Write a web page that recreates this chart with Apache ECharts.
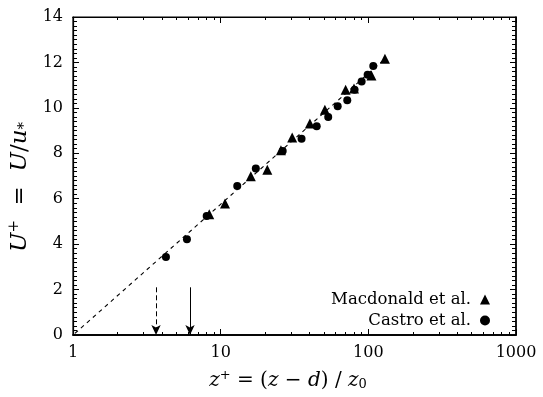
<!DOCTYPE html>
<html>
<head>
<meta charset="utf-8">
<script src="https://cdn.jsdelivr.net/npm/echarts@6/dist/echarts.min.js"></script>
<style>
  html, body { margin: 0; padding: 0; background: #fff; }
  #chart { width: 543px; height: 397px; }
</style>
</head>
<body>
<div id="chart"></div>
<script>
  // Castro et al. (circles)
  const castroX = [4.26, 5.91, 8.04, 12.95, 17.3, 26.3, 35.3, 44.7, 53.5, 62, 72, 80.7, 90.1, 98.9, 108];
  const castroY = [3.43, 4.22, 5.24, 6.56, 7.33, 8.10, 8.64, 9.19, 9.60, 10.07, 10.33, 10.80, 11.16, 11.46, 11.84];
  // Macdonald et al. (triangles)
  const macX = [8.37, 10.7, 16.0, 20.7, 25.6, 30.5, 40.2, 50.8, 70.2, 80, 105, 129.5];
  const macY = [5.32, 5.79, 6.99, 7.28, 8.13, 8.69, 9.31, 9.92, 10.80, 10.85, 11.43, 12.16];
  // log-law fit line end points
  const fitX = [1.03, 130];
  const fitY = [0.07, 12.17];
  // arrows: x position, top of arrow
  const arrowX = [3.65, 6.2];
  const arrowTop = [2.1, 2.1];
  const xTicks = [1, 10, 100, 1000];
  const xMinorTicks = [2, 3, 4, 5, 6, 7, 8, 9, 20, 30, 40, 50, 60, 70, 80, 90, 200, 300, 400, 500, 600, 700, 800, 900];

  const font = 'DejaVu Serif';
  const ink = '#000';

  const zip = (a, b) => a.map((v, i) => [v, b[i]]);

  const chart = echarts.init(document.getElementById('chart'));
  const tickStyle = { inside: true, length: 6, lineStyle: { color: ink, width: 1 } };
  const minorStyle = { show: true, length: 4, lineStyle: { color: ink, width: 1 } };
  const mathRich = {
    i: { fontFamily: font, fontStyle: 'italic', fontSize: 20, color: ink },
    sup: { fontFamily: font, fontSize: 13, color: ink, padding: [0, 0, 10, 0] },
    sub: { fontFamily: font, fontSize: 13, color: ink, padding: [8, 0, 0, 0] }
  };
  const yRich = {
    i: { fontFamily: font, fontStyle: 'italic', fontSize: 23, color: ink },
    sup: { fontFamily: font, fontSize: 15, color: ink, padding: [0, 0, 11, 0] },
    sub: { fontFamily: font, fontSize: 15, color: ink, padding: [9, 0, 0, 0] }
  };

  function logAxis(pos, values, len, extra) {
    return Object.assign({
      type: 'log',
      logBase: 10,
      min: 1,
      max: 1000,
      position: pos,
      axisLine: { show: true, lineStyle: { color: ink, width: pos === 'bottom' ? 1.5 : 1.2 } },
      axisTick: { inside: true, length: len, customValues: values, lineStyle: { color: ink, width: 1 } },
      splitLine: { show: false },
      axisLabel: { show: false }
    }, extra || {});
  }

  const option = {
    animation: false,
    grid: {
      left: 73, right: 27, top: 17, bottom: 62,
      containLabel: false, outerBoundsMode: 'none',
      show: true, borderColor: ink, borderWidth: 1.2
    },
    legend: {
      orient: 'vertical',
      right: 48,
      top: 286,
      align: 'right',
      itemWidth: 10,
      itemHeight: 10,
      itemGap: 4,
      textStyle: { fontFamily: font, fontSize: 16.5, color: ink, padding: [0, 4, 0, 0] },
      data: [
        { name: 'Macdonald et al.', icon: 'triangle' },
        { name: 'Castro et al.', icon: 'circle' }
      ]
    },
    xAxis: [
      logAxis('bottom', xTicks, 6, {
        axisLabel: {
          fontFamily: font, fontSize: 16, color: ink, margin: 10,
          customValues: xTicks,
          formatter: v => String(v)
        },
        name: '{i|z}{sup|+} = ({i|z} − {i|d}) / {i|z}{sub|0}',
        nameLocation: 'middle',
        nameGap: 34,
        nameTextStyle: { fontFamily: font, fontSize: 20, color: ink, rich: mathRich, padding: [0, 13, 0, 0] }
      }),
      logAxis('bottom', xMinorTicks, 3),
      logAxis('top', xTicks, 6),
      logAxis('top', xMinorTicks, 3)
    ],
    yAxis: [{
      type: 'value',
      min: 0,
      max: 14,
      interval: 2,
      axisLine: { show: true, lineStyle: { color: ink, width: 1.2 } },
      axisTick: tickStyle,
      minorTick: Object.assign({ splitNumber: 10 }, minorStyle),
      splitLine: { show: false },
      axisLabel: { fontFamily: font, fontSize: 16, color: ink, margin: 10 },
      name: '{i|U}{sup|+}  =  {i|U}/{i|u}{sub|*}',
      nameLocation: 'middle',
      nameGap: 37,
      nameRotate: 90,
      nameTextStyle: { fontFamily: font, fontSize: 23, color: ink, rich: yRich, padding: [0, 22, 0, 0] }
    }, {
      type: 'value',
      min: 0,
      max: 14,
      interval: 2,
      position: 'right',
      axisLine: { show: true, lineStyle: { color: ink, width: 1.5 } },
      axisTick: tickStyle,
      minorTick: Object.assign({ splitNumber: 10 }, minorStyle),
      splitLine: { show: false },
      axisLabel: { show: false }
    }],
    series: [
      {
        name: 'fit',
        type: 'line',
        data: zip(fitX, fitY),
        symbol: 'none',
        lineStyle: { color: ink, width: 1.1, type: [4, 4] },
        silent: true,
        markLine: {
          silent: true,
          symbol: ['none', 'arrow'],
          symbolSize: [7, 10],
          label: { show: false },
          data: [
            [{ coord: [arrowX[0], arrowTop[0]], lineStyle: { type: [5, 3], color: ink, width: 1 } },
             { coord: [arrowX[0], 0] }],
            [{ coord: [arrowX[1], arrowTop[1]], lineStyle: { type: 'solid', color: ink, width: 1 } },
             { coord: [arrowX[1], 0] }]
          ]
        }
      },
      {
        name: 'Macdonald et al.',
        type: 'scatter',
        symbol: 'triangle',
        symbolSize: 10,
        itemStyle: { color: ink, opacity: 1 },
        data: zip(macX, macY)
      },
      {
        name: 'Castro et al.',
        type: 'scatter',
        symbol: 'circle',
        symbolSize: 8,
        itemStyle: { color: ink, opacity: 1 },
        data: zip(castroX, castroY)
      }
    ]
  };
  chart.setOption(option);
</script>
</body>
</html>
